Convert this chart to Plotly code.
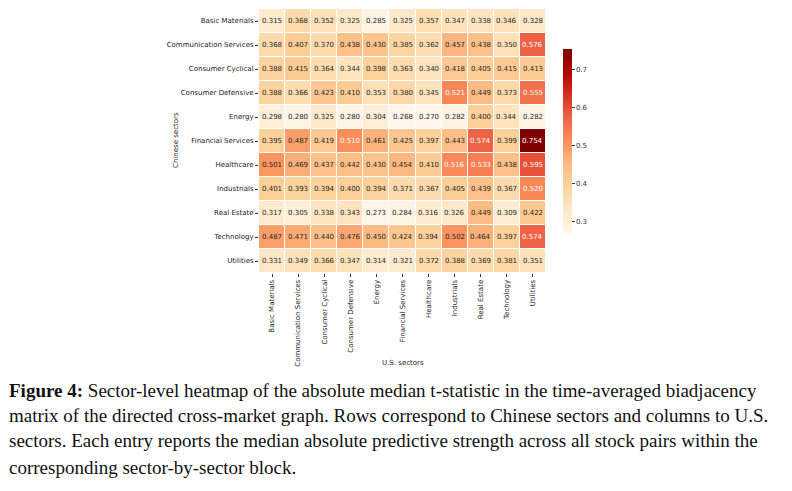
import plotly.graph_objects as go

us_sectors = ["Basic Materials", "Communication Services", "Consumer Cyclical", "Consumer Defensive",
              "Energy", "Financial Services", "Healthcare", "Industrials", "Real Estate",
              "Technology", "Utilities"]
cn_sectors = list(us_sectors)

row_basic_materials = [0.315, 0.368, 0.352, 0.325, 0.285, 0.325, 0.357, 0.347, 0.338, 0.346, 0.328]
row_communication = [0.368, 0.407, 0.370, 0.438, 0.430, 0.385, 0.362, 0.457, 0.438, 0.350, 0.576]
row_cons_cyclical = [0.388, 0.415, 0.364, 0.344, 0.398, 0.363, 0.340, 0.418, 0.405, 0.415, 0.413]
row_cons_defensive = [0.388, 0.366, 0.423, 0.410, 0.353, 0.380, 0.345, 0.521, 0.449, 0.373, 0.555]
row_energy = [0.298, 0.280, 0.325, 0.280, 0.304, 0.268, 0.270, 0.282, 0.400, 0.344, 0.282]
row_financial = [0.395, 0.487, 0.419, 0.510, 0.461, 0.425, 0.397, 0.443, 0.574, 0.399, 0.754]
row_healthcare = [0.501, 0.469, 0.437, 0.442, 0.430, 0.454, 0.410, 0.516, 0.533, 0.438, 0.595]
row_industrials = [0.401, 0.393, 0.394, 0.400, 0.394, 0.371, 0.367, 0.405, 0.439, 0.367, 0.520]
row_real_estate = [0.317, 0.305, 0.338, 0.343, 0.273, 0.284, 0.316, 0.326, 0.449, 0.309, 0.422]
row_technology = [0.487, 0.471, 0.440, 0.476, 0.450, 0.424, 0.394, 0.502, 0.464, 0.397, 0.574]
row_utilities = [0.331, 0.349, 0.366, 0.347, 0.314, 0.321, 0.372, 0.388, 0.369, 0.381, 0.351]

z = [row_basic_materials, row_communication, row_cons_cyclical, row_cons_defensive, row_energy,
     row_financial, row_healthcare, row_industrials, row_real_estate, row_technology, row_utilities]

colorbar_ticks = [0.3, 0.4, 0.5, 0.6, 0.7]

caption_lines = [
    "<b>Figure 4:</b> Sector-level heatmap of the absolute median t-statistic in the time-averaged biadjacency",
    "matrix of the directed cross-market graph. Rows correspond to Chinese sectors and columns to U.S.",
    "sectors. Each entry reports the median absolute predictive strength across all stock pairs within the",
    "corresponding sector-by-sector block.",
]

zmin = min(min(r) for r in z)
zmax = max(max(r) for r in z)

# page geometry (the page body adds an 8 px offset)
OFF = 8
PL, PR, PT, PB = 259, 546, 9, 273          # plot area in page pixels
PW, PH = PR - PL, PB - PT
W, H = 792 - OFF, 491 - OFF


def px_x(px):
    return (px - PL) / PW


def px_y(py):
    return (PB - py) / PH


fig = go.Figure()
fig.add_trace(go.Heatmap(
    z=z, x=us_sectors, y=cn_sectors,
    colorscale="OrRd", zmin=zmin, zmax=zmax,
    xgap=1, ygap=1,
    colorbar=dict(
        x=px_x(563.3), xanchor="left", xpad=0, ypad=0,
        y=px_y(141.3), yanchor="middle",
        len=184 / PH, lenmode="fraction", thickness=9.4, outlinewidth=0,
        tickvals=colorbar_ticks, ticktext=[f"{t:.1f}" for t in colorbar_ticks],
        ticks="outside", ticklen=3, tickcolor="#333",
        tickfont=dict(size=7, family="DejaVu Sans", color="#333"),
    ),
    hoverinfo="skip",
))

annotations = []
thr = zmin + 0.485 * (zmax - zmin)
for i, row in enumerate(z):
    for j, v in enumerate(row):
        annotations.append(dict(
            x=us_sectors[j], y=cn_sectors[i], text=f"{v:.3f}", showarrow=False,
            font=dict(size=7, family="DejaVu Sans", color="white" if v > thr else "#262626"),
        ))

annotations.append(dict(text="U.S. sectors", xref="paper", yref="paper", x=0.5, y=px_y(363),
                        yanchor="middle", showarrow=False,
                        font=dict(size=7, family="DejaVu Sans", color="#222")))
annotations.append(dict(text="Chinese sectors", xref="paper", yref="paper", x=px_x(170),
                        y=px_y(140), textangle=-90, showarrow=False,
                        font=dict(size=7, family="DejaVu Sans", color="#222")))

line_y = [390, 415, 441, 467]
for txt, py in zip(caption_lines, line_y):
    annotations.append(dict(text=txt, xref="paper", yref="paper", x=px_x(7), xanchor="left",
                            y=px_y(py), yanchor="middle", showarrow=False,
                            font=dict(size=19, family="Liberation Serif", color="#111")))

fig.update_layout(
    width=W, height=H,
    margin=dict(l=PL - OFF, r=W - (PR - OFF), t=PT - OFF, b=H - (PB - OFF), pad=0, autoexpand=False),
    paper_bgcolor="white", plot_bgcolor="white",
    annotations=annotations,
    xaxis=dict(tickangle=-90, ticks="outside", ticklen=3, tickcolor="#333", automargin=False,
               tickfont=dict(size=7, family="DejaVu Sans", color="#222"), showgrid=False, zeroline=False),
    yaxis=dict(autorange="reversed", ticks="outside", ticklen=3, tickcolor="#333", automargin=False,
               tickfont=dict(size=7, family="DejaVu Sans", color="#222"), showgrid=False, zeroline=False),
)

fig.write_html("out.html")
